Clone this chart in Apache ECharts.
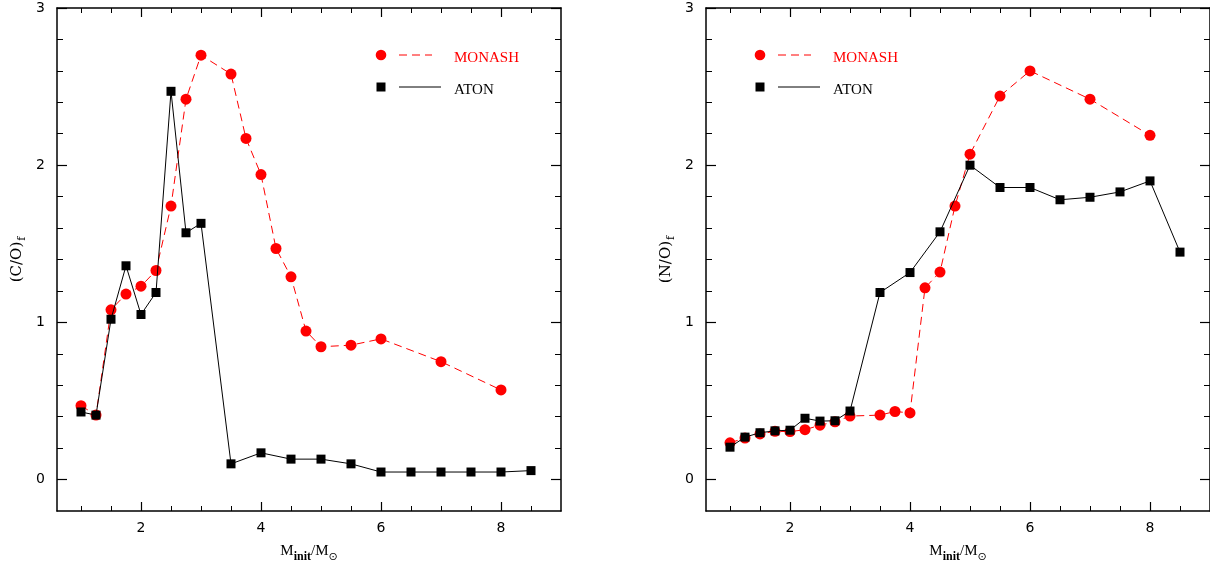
<!DOCTYPE html>
<html>
<head>
<meta charset="utf-8">
<script src="https://cdn.jsdelivr.net/npm/echarts@6/dist/echarts.min.js"></script>
<style>
html,body{margin:0;padding:0;background:#fff;}
#chart{width:1210px;height:568px;}
</style>
</head>
<body>
<div id="chart"></div>
<script>
// ---- Data ----
const massMonash = [1, 1.25, 1.5, 1.75, 2, 2.25, 2.5, 2.75, 3, 3.5, 3.75, 4, 4.25, 4.5, 4.75, 5, 5.5, 6, 7, 8];
const coMonash   = [0.47, 0.41, 1.08, 1.18, 1.23, 1.33, 1.74, 2.42, 2.70, 2.58, 2.17, 1.94, 1.47, 1.29, 0.945, 0.845, 0.855, 0.895, 0.75, 0.57];
const noMonash   = [0.234, 0.264, 0.29, 0.307, 0.305, 0.317, 0.346, 0.367, 0.404, 0.41, 0.433, 0.424, 1.22, 1.32, 1.74, 2.07, 2.44, 2.60, 2.42, 2.19];

const massAtonCO = [1, 1.25, 1.5, 1.75, 2, 2.25, 2.5, 2.75, 3, 3.5, 4, 4.5, 5, 5.5, 6, 6.5, 7, 7.5, 8, 8.5];
const coAton     = [0.43, 0.41, 1.02, 1.36, 1.05, 1.19, 2.47, 1.57, 1.63, 0.10, 0.17, 0.13, 0.13, 0.10, 0.048, 0.048, 0.048, 0.048, 0.048, 0.057];

const massAtonNO = [1, 1.25, 1.5, 1.75, 2, 2.25, 2.5, 2.75, 3, 3.5, 4, 4.5, 5, 5.5, 6, 6.5, 7, 7.5, 8, 8.5];
const noAton     = [0.206, 0.27, 0.298, 0.31, 0.314, 0.39, 0.372, 0.374, 0.436, 1.19, 1.317, 1.576, 2.0, 1.858, 1.858, 1.78, 1.796, 1.83, 1.90, 1.447];

const xMajorTicks = [2, 4, 6, 8];
const xMinorTicks = [1, 1.5, 2, 2.5, 3, 3.5, 4, 4.5, 5, 5.5, 6, 6.5, 7, 7.5, 8, 8.5];
const yMajorTicks = [0, 1, 2, 3];
const yMinorTicks = [0, 0.2, 0.4, 0.6, 0.8, 1, 1.2, 1.4, 1.6, 1.8, 2, 2.2, 2.4, 2.6, 2.8, 3];

const seriesNames = ['MONASH', 'ATON'];
const yTitles = ['(C/O){s|f}', '(N/O){s|f}'];
const xTitle = 'M{s|init}/M{o|⊙}';

// ---- Layout ----
const X_MIN = 0.6, X_MAX = 9, Y_MIN = -0.2, Y_MAX = 3;
const RED = '#ff0000', BLACK = '#000000';
const grids = [
  {left: 57, top: 8, width: 504, height: 505},
  {left: 706, top: 8, width: 504, height: 505}
];
const legendPos = [
  {mx: 381, tx: 454},
  {mx: 760, tx: 833}
];

const zip = (xs, ys) => xs.map((x, i) => [x, ys[i]]);
const tickFont = 'DejaVu Sans';
const serifFont = 'Liberation Serif';
const xSubRich = {
  s: {fontSize: 12, fontWeight: 'bold', fontFamily: serifFont, color: BLACK, verticalAlign: 'bottom', padding: [12, 0, 0, 0]},
  o: {fontSize: 11, fontFamily: 'DejaVu Sans', color: BLACK, verticalAlign: 'bottom', padding: [12, 0, 0, 0]}
};
const ySubRich = {
  s: {fontSize: 11, fontFamily: 'DejaVu Serif', color: BLACK, verticalAlign: 'bottom', padding: [11, 0, 0, 1]}
};

const xAxes = [], yAxes = [];
grids.forEach((g, gi) => {
  const base = {type: 'value', gridIndex: gi, min: X_MIN, max: X_MAX, splitLine: {show: false}};
  xAxes.push(Object.assign({}, base, {
    position: 'bottom',
    axisLine: {show: true, onZero: false, lineStyle: {color: BLACK, width: 1.5}},
    axisTick: {show: true, inside: true, length: 9, customValues: xMajorTicks, lineStyle: {color: BLACK, width: 1.2}},
    axisLabel: {show: true, customValues: xMajorTicks, margin: 10, color: BLACK, fontFamily: tickFont, fontSize: 14},
    name: xTitle, nameLocation: 'middle', nameGap: 28,
    nameTextStyle: {color: BLACK, fontFamily: serifFont, fontSize: 15, rich: xSubRich}
  }));
  xAxes.push(Object.assign({}, base, {
    position: 'bottom',
    axisLine: {show: false, onZero: false},
    axisTick: {show: true, inside: true, length: 5, customValues: xMinorTicks, lineStyle: {color: BLACK, width: 1}},
    axisLabel: {show: false}
  }));
  xAxes.push(Object.assign({}, base, {
    position: 'top',
    axisLine: {show: true, onZero: false, lineStyle: {color: BLACK, width: 1.5}},
    axisTick: {show: true, inside: true, length: 9, customValues: xMajorTicks, lineStyle: {color: BLACK, width: 1.2}},
    axisLabel: {show: false}
  }));
  xAxes.push(Object.assign({}, base, {
    position: 'top',
    axisLine: {show: false, onZero: false},
    axisTick: {show: true, inside: true, length: 5, customValues: xMinorTicks, lineStyle: {color: BLACK, width: 1}},
    axisLabel: {show: false}
  }));

  const ybase = {type: 'value', gridIndex: gi, min: Y_MIN, max: Y_MAX, splitLine: {show: false}};
  yAxes.push(Object.assign({}, ybase, {
    position: 'left',
    axisLine: {show: true, onZero: false, lineStyle: {color: BLACK, width: 1.5}},
    axisTick: {show: true, inside: true, length: 10, customValues: yMajorTicks, lineStyle: {color: BLACK, width: 1.2}},
    axisLabel: {show: true, customValues: yMajorTicks, margin: 12, color: BLACK, fontFamily: tickFont, fontSize: 14},
    name: yTitles[gi], nameLocation: 'middle', nameGap: 29, nameRotate: 90,
    nameTextStyle: {color: BLACK, fontFamily: 'DejaVu Serif', fontSize: 15, rich: ySubRich}
  }));
  yAxes.push(Object.assign({}, ybase, {
    position: 'left',
    axisLine: {show: false, onZero: false},
    axisTick: {show: true, inside: true, length: 6, customValues: yMinorTicks, lineStyle: {color: BLACK, width: 1}},
    axisLabel: {show: false}
  }));
  yAxes.push(Object.assign({}, ybase, {
    position: 'right',
    axisLine: {show: true, onZero: false, lineStyle: {color: BLACK, width: 1.5}},
    axisTick: {show: true, inside: true, length: 10, customValues: yMajorTicks, lineStyle: {color: BLACK, width: 1.2}},
    axisLabel: {show: false}
  }));
  yAxes.push(Object.assign({}, ybase, {
    position: 'right',
    axisLine: {show: false, onZero: false},
    axisTick: {show: true, inside: true, length: 6, customValues: yMinorTicks, lineStyle: {color: BLACK, width: 1}},
    axisLabel: {show: false}
  }));
});

function monashSeries(gi, data) {
  return {
    name: seriesNames[0], type: 'line', xAxisIndex: gi * 4, yAxisIndex: gi * 4,
    data: data, symbol: 'circle', symbolSize: 11, showSymbol: true,
    lineStyle: {color: RED, width: 1, type: [8, 5]},
    itemStyle: {color: RED, borderWidth: 0},
    z: 2, animation: false
  };
}
function atonSeries(gi, data) {
  return {
    name: seriesNames[1], type: 'line', xAxisIndex: gi * 4, yAxisIndex: gi * 4,
    data: data, symbol: 'rect', symbolSize: 9, showSymbol: true,
    lineStyle: {color: BLACK, width: 1, type: 'solid'},
    itemStyle: {color: BLACK, borderWidth: 0},
    z: 3, animation: false
  };
}

const graphics = [];
legendPos.forEach(p => {
  graphics.push({type: 'circle', shape: {cx: p.mx, cy: 55, r: 5.3}, style: {fill: RED}, z: 10});
  graphics.push({type: 'line', shape: {x1: p.mx + 18, y1: 55, x2: p.mx + 51, y2: 55}, style: {stroke: RED, lineWidth: 1, lineDash: [8, 5]}, z: 10});
  graphics.push({type: 'text', x: p.tx, y: 58, style: {text: seriesNames[0], fill: RED, font: '15px "Liberation Serif"', verticalAlign: 'middle', align: 'left'}, z: 10});
  graphics.push({type: 'rect', shape: {x: p.mx - 4.5, y: 82.5, width: 9, height: 9}, style: {fill: BLACK}, z: 10});
  graphics.push({type: 'line', shape: {x1: p.mx + 18, y1: 87, x2: p.mx + 60, y2: 87}, style: {stroke: BLACK, lineWidth: 1}, z: 10});
  graphics.push({type: 'text', x: p.tx, y: 90, style: {text: seriesNames[1], fill: BLACK, font: '15px "Liberation Serif"', verticalAlign: 'middle', align: 'left'}, z: 10});
});

const chart = echarts.init(document.getElementById('chart'), null, {renderer: 'canvas'});
chart.setOption({
  animation: false,
  backgroundColor: '#ffffff',
  grid: grids.map(g => Object.assign({containLabel: false}, g)),
  xAxis: xAxes,
  yAxis: yAxes,
  series: [
    monashSeries(0, zip(massMonash, coMonash)),
    atonSeries(0, zip(massAtonCO, coAton)),
    monashSeries(1, zip(massMonash, noMonash)),
    atonSeries(1, zip(massAtonNO, noAton))
  ],
  graphic: graphics
});
</script>
</body>
</html>
